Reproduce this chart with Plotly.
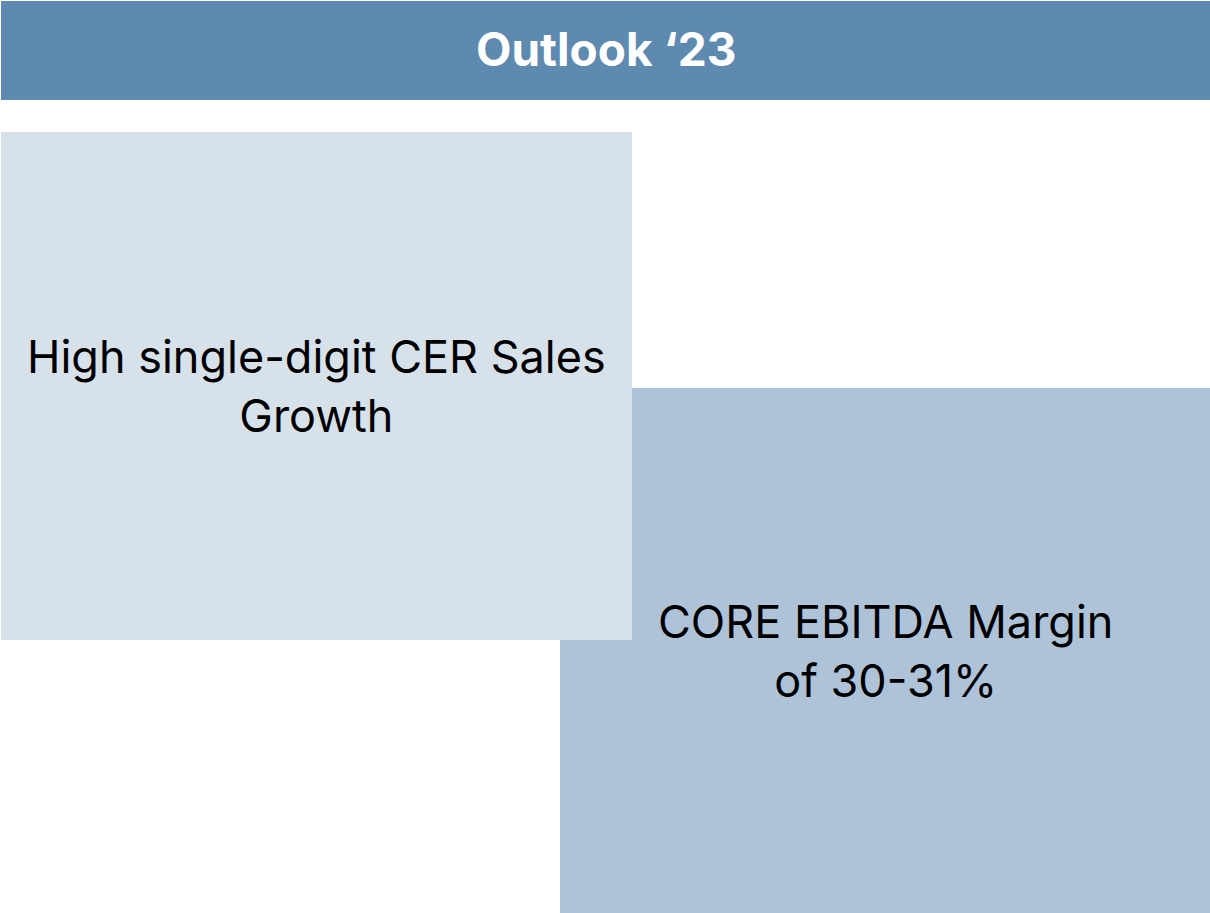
import plotly.graph_objects as go

header_text = "Outlook ‘23"
box_labels = ["High single-digit CER Sales<br>Growth", "CORE EBITDA Margin<br>of 30-31%"]
box_colors = ["#D7E1EA", "#AEC3D8"]
header_color = "#5F8AB0"

W, H = 1210, 913
# box geometry in pixel units (x0, y0, x1, y1)
header_geom = (1, 1, 1210, 100)
box_geoms = [(1, 132, 632, 640), (560, 388, 1210, 913)]

fig = go.Figure()
shapes = []
annotations = []

shapes.append(dict(type="rect", xref="x", yref="y",
                   x0=header_geom[0], y0=header_geom[1], x1=header_geom[2], y1=header_geom[3],
                   fillcolor=header_color, line=dict(width=0), layer="below"))
annotations.append(dict(x=(header_geom[0] + header_geom[2]) / 2, y=(header_geom[1] + header_geom[3]) / 2 - 2,
                        xref="x", yref="y", text="<b>" + header_text + "</b>", showarrow=False,
                        font=dict(family="Inter", size=46, color="white"),
                        xanchor="center", yanchor="middle"))

# draw the second box first so the first one overlaps it
for i in [1, 0]:
    g = box_geoms[i]
    shapes.append(dict(type="rect", xref="x", yref="y", x0=g[0], y0=g[1], x1=g[2], y1=g[3],
                       fillcolor=box_colors[i], line=dict(width=0), layer="below"))
for i, g in enumerate(box_geoms):
    annotations.append(dict(x=(g[0] + g[2]) / 2, y=(g[1] + g[3]) / 2,
                            xref="x", yref="y", text=box_labels[i], showarrow=False,
                            font=dict(family="Inter", size=45, color="black"),
                            xanchor="center", yanchor="middle", align="center"))

fig.add_trace(go.Scatter(x=[0, W], y=[0, H], mode="markers", marker=dict(opacity=0),
                         hoverinfo="skip", showlegend=False))

fig.update_layout(
    width=W, height=H, margin=dict(l=0, r=0, t=0, b=0),
    paper_bgcolor="white", plot_bgcolor="white",
    shapes=shapes, annotations=annotations,
    xaxis=dict(range=[0, W], visible=False, fixedrange=True),
    yaxis=dict(range=[H, 0], visible=False, fixedrange=True),
    showlegend=False,
)

fig.write_html("out.html", config={"displayModeBar": False},
               post_script="document.body.style.margin='0';document.body.style.overflow='hidden';")
